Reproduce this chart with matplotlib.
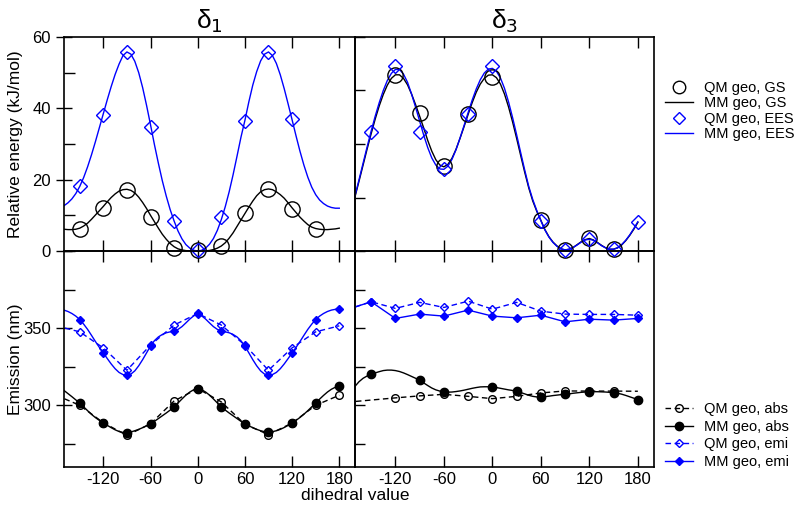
import numpy as np
import matplotlib
matplotlib.use('Agg')
import matplotlib.pyplot as plt
from matplotlib.lines import Line2D
from matplotlib.ticker import MultipleLocator

plt.rcParams['font.family'] = ['Liberation Sans', 'DejaVu Sans']
plt.rcParams['axes.unicode_minus'] = False

# dihedral grid of the MM curves (read every 5 deg)
ang = list(range(-180, 181, 5))
ang30 = list(range(-180, 181, 30))

#### delta1, relative energy
d1_qm_gs_x = [-150, -120, -90, -60, -30, 0, 30, 60, 90, 120, 150]
d1_qm_gs = [6.1, 12.0, 17.1, 9.6, 0.8, 0.2, 1.4, 10.6, 17.4, 11.7, 6.1]
d1_qm_ees_x = [-150, -120, -90, -60, -30, 0, 30, 60, 90, 120]
d1_qm_ees = [18.3, 38.1, 55.9, 34.9, 8.5, 0.2, 9.4, 36.4, 55.9, 36.9]
d1_mm_gs = [6.4, 6.2, 6.1, 6.0, 6.0, 6.1, 6.4, 7.0, 7.8, 8.9, 10.1, 11.3,
            12.5, 13.8, 15.0, 16.0, 16.8, 17.2, 17.3, 17.0, 16.3, 15.1, 13.6, 11.9,
            10.0, 8.2, 6.4, 4.7, 3.3, 2.1, 1.2, 0.6, 0.3, 0.1, 0.05, 0.0,
            0.0, 0.0, 0.05, 0.15, 0.4, 0.8, 1.4, 2.3, 3.6, 5.1, 6.9, 8.7,
            10.5, 12.3, 14.0, 15.5, 16.6, 17.2, 17.4, 17.2, 16.6, 15.8, 14.8, 13.5,
            12.1, 10.8, 9.5, 8.4, 7.4, 6.7, 6.3, 6.1, 6.0, 6.0, 6.1, 6.2,
            6.4]
d1_mm_ees = [12.0, 12.2, 12.7, 13.5, 14.6, 16.1, 18.1, 20.6, 23.6, 27.0, 30.7, 34.6,
             38.5, 42.4, 46.1, 49.5, 52.4, 54.8, 55.8, 55.2, 53.2, 50.0, 45.8, 40.8,
             35.4, 29.8, 24.6, 19.7, 15.4, 11.6, 8.4, 5.6, 3.4, 1.8, 0.8, 0.2,
             0.0, 0.2, 0.8, 1.9, 3.5, 5.8, 8.8, 12.4, 16.6, 21.4, 26.6, 31.9,
             36.6, 41.8, 46.5, 50.3, 53.3, 55.2, 55.8, 54.8, 52.6, 49.4, 45.5, 41.2,
             36.8, 32.3, 28.0, 24.1, 20.7, 17.9, 15.8, 14.3, 13.3, 12.6, 12.2, 12.0,
             12.0]

#### delta3, relative energy
d3_qm_gs_x = [-120, -90, -60, -30, 0, 60, 90, 120, 150]
d3_qm_gs = [49.3, 38.8, 23.8, 38.4, 48.9, 8.7, 0.3, 3.6, 0.6]
d3_qm_ees_x = [-150, -120, -90, -60, -30, 0, 60, 90, 120, 150, 180]
d3_qm_ees = [33.5, 51.9, 33.5, 22.9, 38.4, 51.9, 8.5, 0.3, 3.4, 0.6, 8.2]
d3_mm_gs = [8.0, 11.3, 15.2, 19.6, 24.1, 28.6, 32.9, 37.0, 40.7, 43.9, 46.5, 48.4,
            49.4, 49.4, 48.4, 46.6, 44.0, 41.0, 37.8, 34.5, 31.0, 28.0, 25.6, 24.1,
            23.6, 24.3, 26.0, 28.5, 31.6, 34.9, 38.3, 41.6, 44.5, 46.8, 48.4, 49.3,
            49.4, 48.6, 46.8, 44.0, 40.4, 36.2, 31.6, 26.8, 22.1, 17.7, 14.0, 11.1,
            8.6, 6.0, 4.0, 2.5, 1.4, 0.6, 0.3, 0.5, 1.0, 1.8, 2.6, 3.2,
            3.5, 3.1, 2.4, 1.6, 0.9, 0.5, 0.5, 0.9, 1.7, 2.9, 4.4, 6.1,
            8.0]
d3_mm_ees = [8.2, 11.5, 15.5, 20.0, 24.6, 29.2, 33.6, 37.8, 41.6, 45.0, 47.8, 49.8,
             50.9, 50.9, 49.6, 47.3, 44.0, 40.3, 36.4, 32.5, 29.0, 26.1, 24.1, 23.0,
             22.9, 23.8, 25.7, 28.4, 31.7, 35.2, 38.8, 42.3, 45.4, 48.0, 49.9, 51.0,
             51.2, 50.4, 48.5, 45.6, 41.8, 37.4, 32.6, 27.6, 22.7, 18.1, 14.4, 11.3,
             8.5, 5.9, 3.9, 2.4, 1.3, 0.6, 0.3, 0.5, 1.0, 1.7, 2.5, 3.1,
             3.3, 3.0, 2.3, 1.5, 0.9, 0.5, 0.5, 0.9, 1.8, 3.0, 4.5, 6.3,
             8.2]

#### delta1, emission
d1_qm_abs = [306.5, 300.0, 288.7, 280.5, 288.0, 302.8, 310.8, 302.2, 287.7, 281.0, 288.5, 300.0, 306.5]
d1_qm_emi = [351.5, 347.6, 337.2, 322.7, 339.0, 352.0, 359.5, 352.0, 339.0, 322.7, 337.2, 347.6, 351.5]
d1_mm_abs_pts = [312.6, 301.5, 288.7, 282.3, 288.0, 299.0, 310.8, 299.0, 288.0, 282.7, 288.5, 301.5, 312.6]
d1_mm_emi_pts = [362.3, 355.6, 334.0, 319.5, 338.5, 348.0, 359.0, 348.0, 338.3, 319.5, 334.0, 355.6, 362.3]
d1_mm_abs = [312.6, 311.3, 309.6, 307.6, 305.6, 303.5, 301.5, 299.0, 296.5, 294.1, 292.0, 290.2,
             288.7, 287.0, 285.5, 284.1, 283.0, 282.4, 282.3, 282.7, 283.5, 284.4, 285.5, 286.7,
             288.0, 289.6, 291.4, 293.2, 295.0, 296.9, 299.0, 301.5, 304.1, 306.6, 308.6, 310.1,
             310.8, 310.1, 308.6, 306.6, 304.1, 301.5, 299.0, 296.9, 295.0, 293.2, 291.4, 289.6,
             288.0, 286.7, 285.5, 284.4, 283.5, 282.9, 282.7, 282.9, 283.5, 284.4, 285.6, 287.0,
             288.5, 290.2, 292.1, 294.2, 296.5, 299.0, 301.5, 304.0, 306.4, 308.6, 310.4, 311.7,
             312.6]
d1_mm_emi = [362.3, 362.2, 361.7, 360.8, 359.5, 357.8, 355.6, 352.6, 349.2, 345.3, 341.3, 337.5,
             334.0, 330.3, 326.8, 323.7, 321.3, 319.9, 319.5, 320.2, 322.3, 325.6, 329.6, 334.0,
             338.4, 341.9, 344.3, 345.9, 347.0, 347.6, 348.1, 349.2, 351.0, 353.4, 355.9, 358.0,
             359.0, 358.0, 355.9, 353.4, 351.0, 349.2, 348.1, 347.6, 347.0, 345.9, 344.3, 341.8,
             338.3, 334.0, 329.6, 325.6, 322.3, 320.2, 319.5, 319.9, 321.3, 323.7, 326.8, 330.3,
             334.0, 337.5, 341.3, 345.3, 349.2, 352.6, 355.6, 357.8, 359.5, 360.8, 361.7, 362.2,
             362.3]

#### delta3, emission
d3_qm_abs_x = [-180, -120, -90, -60, -30, 0, 30, 60, 90, 120, 150, 180]
d3_qm_abs = [302.0, 304.8, 306.1, 307.1, 305.8, 304.3, 305.8, 308.0, 309.3, 309.2, 309.2, 309.1]
d3_mm_abs_x = [-150, -90, -60, 0, 30, 60, 90, 120, 150, 180]
d3_mm_abs_pts = [320.0, 316.2, 308.7, 311.9, 309.1, 305.4, 307.1, 308.7, 308.2, 303.7]
d3_mm_abs = [303.7, 308.5, 312.3, 315.3, 317.5, 319.0, 320.0, 321.0, 321.8, 322.5, 322.8, 322.8,
             322.5, 321.9, 321.0, 319.9, 318.7, 317.5, 316.2, 314.5, 312.8, 311.2, 310.0, 309.2,
             308.7, 308.5, 308.6, 308.9, 309.3, 309.8, 310.4, 311.0, 311.5, 311.9, 312.0, 312.0,
             311.9, 311.5, 311.0, 310.5, 310.0, 309.6, 309.1, 308.3, 307.4, 306.5, 305.8, 305.4,
             305.4, 305.6, 305.9, 306.3, 306.6, 306.9, 307.1, 307.4, 307.8, 308.1, 308.4, 308.6,
             308.7, 308.8, 308.8, 308.7, 308.6, 308.4, 308.2, 307.8, 307.2, 306.4, 305.5, 304.6,
             303.7]
d3_qm_emi = [362.0, 367.1, 362.8, 366.7, 363.4, 367.5, 362.3, 366.7, 361.0, 359.1, 358.9, 358.9, 358.4]
d3_mm_emi = [362.0, 367.1, 356.3, 359.1, 357.8, 361.7, 357.8, 356.7, 358.4, 354.1, 355.8, 355.2, 356.3]

blue = '#0000ff'
dash = (0, (4, 2.5))

fig = plt.figure(figsize=(8, 5.11), dpi=100)
ax_bl = fig.add_axes([0.08, 0.0861, 0.36375, 0.4227])
ax_br = fig.add_axes([0.44375, 0.0861, 0.37375, 0.4227])
ax_tl = fig.add_axes([0.08, 0.5088, 0.36375, 0.4188])
ax_tr = fig.add_axes([0.44375, 0.5088, 0.37375, 0.4188])

# energy panels
for ax, qgx, qg, qex, qe, mg, me in [
        (ax_tl, d1_qm_gs_x, d1_qm_gs, d1_qm_ees_x, d1_qm_ees, d1_mm_gs, d1_mm_ees),
        (ax_tr, d3_qm_gs_x, d3_qm_gs, d3_qm_ees_x, d3_qm_ees, d3_mm_gs, d3_mm_ees)]:
    ax.plot(ang, mg, color='k', lw=1)
    ax.plot(ang, me, color=blue, lw=1)
    ax.plot(qgx, qg, ls='none', marker='o', ms=11, mfc='none', mec='k', mew=1, clip_on=False)
    ax.plot(qex, qe, ls='none', marker='D', ms=7, mfc='none', mec=blue, mew=1, clip_on=False)
    ax.set_ylim(0, 60)

# emission panels
ax_bl.plot(ang30, d1_qm_abs, color='k', lw=1, ls=dash, marker='o', ms=5.5, mfc='none', mec='k')
ax_bl.plot(ang, d1_mm_abs, color='k', lw=1)
ax_bl.plot(ang30, d1_mm_abs_pts, ls='none', marker='o', ms=6, color='k')
ax_bl.plot(ang30, d1_qm_emi, color=blue, lw=1, ls=dash, marker='D', ms=4, mfc='none', mec=blue)
ax_bl.plot(ang, d1_mm_emi, color=blue, lw=1)
ax_bl.plot(ang30, d1_mm_emi_pts, ls='none', marker='D', ms=4.3, color=blue)

ax_br.plot(d3_qm_abs_x, d3_qm_abs, color='k', lw=1, ls=dash, marker='o', ms=5.5, mfc='none',
           mec='k', markevery=list(range(len(d3_qm_abs_x) - 1)))
ax_br.plot(ang, d3_mm_abs, color='k', lw=1)
ax_br.plot(d3_mm_abs_x, d3_mm_abs_pts, ls='none', marker='o', ms=6, color='k')
ax_br.plot(ang30, d3_qm_emi, color=blue, lw=1, ls=dash, marker='D', ms=4, mfc='none', mec=blue)
ax_br.plot(ang30, d3_mm_emi, color=blue, lw=1, marker='D', ms=4.3)

for ax in [ax_bl, ax_br]:
    ax.set_ylim(260, 400)

for ax in [ax_tl, ax_tr, ax_bl, ax_br]:
    ax.patch.set_visible(False)
    ax.set_xlim(-170, 200)
    ax.set_xticks([-120, -60, 0, 60, 120, 180])
    ax.tick_params(axis='x', direction='in', top=True, bottom=True, length=8, width=1,
                   labelsize=12)
    for s in ax.spines.values():
        s.set_linewidth(1.2)

for ax in [ax_tl, ax_tr]:
    ax.tick_params(axis='x', labelbottom=False)

ax_tl.set_yticks([0, 20, 40, 60])
ax_tl.yaxis.set_minor_locator(MultipleLocator(10))
ax_bl.set_yticks([300, 350])
ax_bl.yaxis.set_minor_locator(MultipleLocator(25))
for ax in [ax_tl, ax_bl]:
    ax.tick_params(axis='y', which='major', direction='inout', length=12, width=1, labelsize=12)
    ax.tick_params(axis='y', which='minor', direction='in', length=8, width=1)

ax_tr.set_yticks([0, 15, 30, 45, 60])
ax_br.set_yticks([275, 300, 325, 350, 375])
for ax in [ax_tr, ax_br]:
    ax.tick_params(axis='y', direction='in', length=7, width=1, labelleft=False)

ax_tl.set_ylabel('Relative energy (kJ/mol)', fontsize=12.5)
ax_bl.set_ylabel('Emission (nm)', fontsize=12.5)
ax_tl.yaxis.set_label_coords(-0.14, 0.5)
ax_bl.yaxis.set_label_coords(-0.14, 0.5)
ax_tl.set_title('δ$_1$', fontsize=19, pad=6)
ax_tr.set_title('δ$_3$', fontsize=19, pad=6)
fig.text(355 / 800, 1 - 496 / 511, 'dihedral value', fontsize=12.5, ha='center', va='center')

top_handles = [
    Line2D([], [], ls='none', marker='o', ms=9, mfc='none', mec='k'),
    Line2D([], [], color='k', lw=1),
    Line2D([], [], ls='none', marker='D', ms=6.5, mfc='none', mec=blue),
    Line2D([], [], color=blue, lw=1),
]
fig.legend(top_handles, ['QM geo, GS', 'MM geo, GS', 'QM geo, EES', 'MM geo, EES'],
           loc='upper left', bbox_to_anchor=(665 / 800, 1 - 81 / 511), frameon=False,
           fontsize=10.5, handlelength=1.9, handletextpad=0.75, labelspacing=0.1,
           borderpad=0, borderaxespad=0)

bot_handles = [
    Line2D([], [], color='k', lw=1, ls=dash, marker='o', ms=5.5, mfc='none', mec='k'),
    Line2D([], [], color='k', lw=1, marker='o', ms=6),
    Line2D([], [], color=blue, lw=1, ls=dash, marker='D', ms=4, mfc='none', mec=blue),
    Line2D([], [], color=blue, lw=1, marker='D', ms=4.3),
]
fig.legend(bot_handles, ['QM geo, abs', 'MM geo, abs', 'QM geo, emi', 'MM geo, emi'],
           loc='upper left', bbox_to_anchor=(665 / 800, 1 - 402 / 511), frameon=False,
           fontsize=10.5, handlelength=1.9, handletextpad=0.75, labelspacing=0.25,
           borderpad=0, borderaxespad=0)

fig.savefig('out.png', dpi=100)
